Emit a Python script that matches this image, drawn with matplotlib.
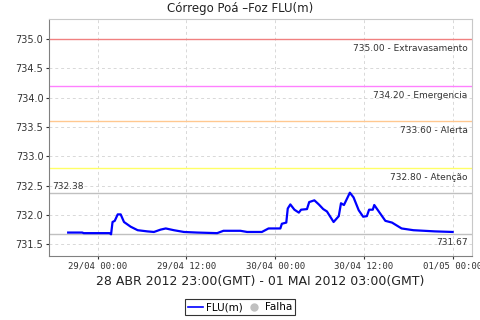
import datetime as dt
import matplotlib
matplotlib.use("Agg")
import matplotlib.pyplot as plt
import matplotlib.dates as mdates
from matplotlib.lines import Line2D

# hours after 29/04/2012 00:00 and water level FLU(m)
hours = [-4.0, -2.1, -1.9, 1.6, 1.8, 2.0, 2.3, 2.7, 3.1, 3.55, 4.45, 5.4, 6.7,
         7.6, 8.5, 9.2, 10.3, 11.65, 13.45, 16.15, 17.0, 19.3, 20.2, 22.2,
         23.1, 24.7, 24.9, 25.5, 25.7, 26.05, 26.6, 27.2, 27.5, 28.3, 28.6,
         29.3, 29.9, 30.5, 31.0, 31.9, 32.6, 32.9, 33.3, 34.1, 34.6, 35.3,
         35.9, 36.4, 36.7, 37.2, 37.4, 37.9, 38.9, 39.8, 41.1, 42.7, 45.6, 48.0]
level = [731.70, 731.70, 731.69, 731.69, 731.67, 731.88, 731.90, 732.01,
         732.01, 731.88, 731.80, 731.74, 731.72, 731.71, 731.75, 731.77,
         731.74, 731.71, 731.70, 731.69, 731.73, 731.73, 731.71, 731.71,
         731.77, 731.77, 731.85, 731.87, 732.11, 732.18, 732.09, 732.04,
         732.09, 732.10, 732.22, 732.25, 732.18, 732.10, 732.06, 731.88,
         731.98, 732.20, 732.17, 732.38, 732.30, 732.08, 731.97, 731.98,
         732.09, 732.09, 732.17, 732.08, 731.90, 731.87, 731.77, 731.74,
         731.72, 731.71]

limits = [735.00, 734.20, 733.60, 732.80]
limit_names = ["Extravasamento", "Emergencia", "Alerta", "Atenção"]
limit_colors = ["#f08080", "#ff80ff", "#ffc890", "#ffff66"]

t0 = dt.datetime(2012, 4, 29, 0, 0)
times = [t0 + dt.timedelta(hours=h) for h in hours]
vmax, vmin = max(level), min(level)

fig = plt.figure(figsize=(4.8, 3.2), dpi=100)
ax = fig.add_axes([0.102, 0.2, 0.881, 0.74])

ax.grid(True, color="#d8d8d8", linestyle=(0, (3, 3)), linewidth=0.7)
ax.set_axisbelow(True)

for val, name, col in zip(limits, limit_names, limit_colors):
    ax.axhline(val, color=col, linewidth=1.0)
    ax.text(0.99, val - 0.08, f"{val:.2f} - {name}", transform=ax.get_yaxis_transform(),
            ha="right", va="top", fontsize=6.5, color="#333333")

ax.axhline(vmax, color="#c0c0c0", linewidth=1.0)
ax.text(0.007, vmax + 0.03, f"{vmax:.2f}", transform=ax.get_yaxis_transform(),
        ha="left", va="bottom", fontsize=6.5, color="#333333")
ax.axhline(vmin, color="#c0c0c0", linewidth=1.0)
ax.text(0.99, vmin - 0.07, f"{vmin:.2f}", transform=ax.get_yaxis_transform(),
        ha="right", va="top", fontsize=6.5, color="#333333")

ax.plot(times, level, color="#0000ff", linewidth=1.6)

ax.set_ylim(731.30, 735.34)
span = times[-1] - times[0]
ax.set_xlim(times[0] - span * 0.05, times[-1] + span * 0.05)
ax.set_yticks([731.5, 732.0, 732.5, 733.0, 733.5, 734.0, 734.5, 735.0])
ax.yaxis.set_major_formatter(plt.FormatStrFormatter("%.1f"))
ax.xaxis.set_major_locator(mdates.HourLocator(byhour=[0, 12]))
ax.xaxis.set_major_formatter(mdates.DateFormatter("%d/%m %H:%M"))

ax.tick_params(axis="y", labelsize=7, colors="#333333", length=2, pad=2)
ax.tick_params(axis="x", labelsize=6.5, colors="#333333", length=2, pad=2)
for lab in ax.get_xticklabels():
    lab.set_family("DejaVu Sans Mono")
for s in ["left", "bottom"]:
    ax.spines[s].set_color("#808080")
for s in ["top", "right"]:
    ax.spines[s].set_color("#c8c8c8")

ax.set_xlabel("28 ABR 2012 23:00(GMT) - 01 MAI 2012 03:00(GMT)", fontsize=9,
              color="#222222", labelpad=3)
fig.text(0.5, 0.972, "Córrego Poá –Foz FLU(m)", ha="center", va="center",
         fontsize=8.5, color="#222222")

handles = [Line2D([], [], color="#0000ff", linewidth=1.2),
           Line2D([], [], color="#c0c0c0", marker="o", linestyle="none", markersize=5)]
leg = fig.legend(handles, ["FLU(m)", "Falha"], loc="center", bbox_to_anchor=(0.5, 0.04),
                 ncol=2, fontsize=7.5, frameon=True, fancybox=False, handlelength=1.4,
                 handletextpad=0.3, columnspacing=0.4, borderpad=0.3, borderaxespad=0)
leg.get_frame().set_edgecolor("black")
leg.get_frame().set_linewidth(0.8)

fig.savefig("out.png", dpi=100)
